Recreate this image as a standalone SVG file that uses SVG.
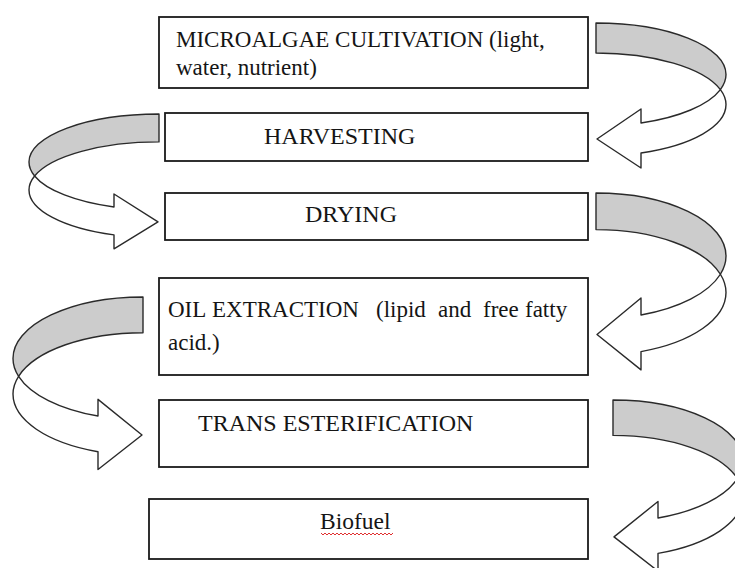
<svg xmlns="http://www.w3.org/2000/svg" width="735" height="568" viewBox="0 0 735 568">
<defs>
<style>
.box{fill:#fff;stroke:#1a1a1a;stroke-width:1.8}
.t{font-family:"Liberation Serif","Times New Roman",serif;fill:#151515;font-size:24px}
.g{fill:#cccccc;stroke:#2a2a2a;stroke-width:1.4;stroke-linejoin:round;vector-effect:non-scaling-stroke}
.w{fill:#fff;stroke:#2a2a2a;stroke-width:1.4;stroke-linejoin:round;vector-effect:non-scaling-stroke}
</style>
<g id="curved">
<path class="g" d="M0,0 A130,51.6 0 0 1 130,51.6 A130,51.6 0 0 1 124.4,66.6 A130,51.6 0 0 0 0,30 Z"/>
<path class="w" d="M124.4,66.6 A130,51.6 0 0 1 130,81.6 A130,51.6 0 0 1 45,130 L45,145 L1,116 L45,86 L45,100 A130,51.6 0 0 0 124.4,66.6 Z"/>
</g>
</defs>
<rect width="735" height="568" fill="#fff"/>
<g id="connectors">
<use href="#curved" transform="translate(596,23)"/>
<use href="#curved" transform="translate(159,114) scale(-1,0.93)"/>
<use href="#curved" transform="translate(596,193) scale(1,1.22)"/>
<use href="#curved" transform="translate(143,297) scale(-1,1.19)"/>
<use href="#curved" transform="translate(613,400) scale(1,1.18)"/>
</g>
<g id="cultivation">
<rect class="box" x="159" y="17" width="429" height="71"/>
<text class="t" x="176" y="47" style="font-size:23px">MICROALGAE CULTIVATION (light,</text>
<text class="t" x="176" y="75" style="font-size:23px">water, nutrient)</text>
</g>
<g id="harvesting">
<rect class="box" x="165" y="113" width="423" height="48"/>
<text class="t" x="264" y="144">HARVESTING</text>
</g>
<g id="drying">
<rect class="box" x="165" y="193" width="423" height="47"/>
<text class="t" x="305" y="222">DRYING</text>
</g>
<g id="oil-extraction">
<rect class="box" x="159" y="278" width="429" height="97"/>
<text class="t" y="317" style="font-size:23px"><tspan x="168">OIL</tspan><tspan x="212">EXTRACTION</tspan><tspan x="376">(lipid</tspan><tspan x="438">and</tspan><tspan x="483">free</tspan><tspan x="525">fatty</tspan></text>
<text class="t" x="168" y="350" style="font-size:23px">acid.)</text>
</g>
<g id="transesterification">
<rect class="box" x="159" y="400" width="429" height="67"/>
<text class="t" x="198" y="431">TRANS ESTERIFICATION</text>
</g>
<g id="biofuel">
<rect class="box" x="149" y="499" width="439" height="60"/>
<text class="t" x="320" y="529" style="font-size:23.5px">Biofuel</text>
<path d="M321,533 l2,2 l2,-2 l2,2 l2,-2 l2,2 l2,-2 l2,2 l2,-2 l2,2 l2,-2 l2,2 l2,-2 l2,2 l2,-2 l2,2 l2,-2 l2,2 l2,-2 l2,2 l2,-2 l2,2 l2,-2 l2,2 l2,-2 l2,2 l2,-2 l2,2 l2,-2 l2,2 l2,-2 l2,2 l2,-2 l2,2 l2,-2 l2,2 l2,-2" fill="none" stroke="#e03030" stroke-width="1"/>
</g>
</svg>
